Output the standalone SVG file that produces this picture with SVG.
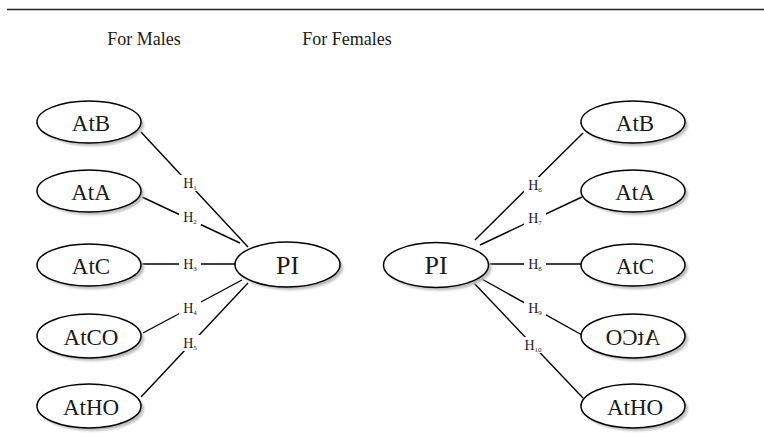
<svg xmlns="http://www.w3.org/2000/svg" width="764" height="433" viewBox="0 0 764 433">
<defs>
<style>
.n{fill:#fff;stroke:#000;stroke-width:1.5}
.s{fill:#bdbdbd;stroke:none;filter:url(#blur)}
.t{font-family:"Liberation Serif",serif;font-size:23px;fill:#1a1a1a;text-anchor:middle}
.p{font-size:26px}
.h{font-family:"Liberation Serif",serif;font-size:14px;fill:#1a1a1a;text-anchor:middle}
.sub{font-size:7px}
.e{stroke:#000;stroke-width:1.4;fill:none}
.ttl{font-family:"Liberation Serif",serif;font-size:18px;fill:#1a1a1a;text-anchor:middle}
</style>
<filter id="blur" x="-20%" y="-20%" width="140%" height="140%"><feGaussianBlur stdDeviation="1.2"/></filter>
</defs>
<rect width="764" height="433" fill="#fff"/>
<line x1="7" y1="9.5" x2="764" y2="9.5" stroke="#222" stroke-width="1.5"/>
<text class="ttl" x="144" y="45">For Males</text>
<text class="ttl" x="347" y="45">For Females</text>
<g id="connectors">
<line class="e" x1="141" y1="132" x2="248" y2="247"/>
<line class="e" x1="142" y1="197" x2="240" y2="243"/>
<line class="e" x1="142" y1="264" x2="236" y2="264"/>
<line class="e" x1="143" y1="333" x2="242" y2="280"/>
<line class="e" x1="141" y1="397" x2="248" y2="283"/>
<line class="e" x1="583" y1="133" x2="475" y2="240"/>
<line class="e" x1="582" y1="197" x2="480" y2="245"/>
<line class="e" x1="488" y1="264" x2="582" y2="264"/>
<line class="e" x1="480" y1="278" x2="582" y2="335"/>
<line class="e" x1="473" y1="282" x2="583" y2="398"/>
<g id="labels">
<rect x="179" y="175" width="22" height="16" fill="#fff"/>
<text class="h" x="190" y="188">H<tspan class="sub" dy="2">1</tspan></text>
<rect x="179" y="209" width="22" height="16" fill="#fff"/>
<text class="h" x="190" y="222">H<tspan class="sub" dy="2">2</tspan></text>
<rect x="179" y="256" width="22" height="16" fill="#fff"/>
<text class="h" x="190" y="269">H<tspan class="sub" dy="2">3</tspan></text>
<rect x="179" y="300" width="22" height="16" fill="#fff"/>
<text class="h" x="190" y="313">H<tspan class="sub" dy="2">4</tspan></text>
<rect x="179" y="335" width="22" height="16" fill="#fff"/>
<text class="h" x="190" y="348">H<tspan class="sub" dy="2">5</tspan></text>
<rect x="524" y="177" width="22" height="16" fill="#fff"/>
<text class="h" x="535" y="190">H<tspan class="sub" dy="2">6</tspan></text>
<rect x="524" y="210" width="22" height="16" fill="#fff"/>
<text class="h" x="535" y="223">H<tspan class="sub" dy="2">7</tspan></text>
<rect x="524" y="256" width="22" height="16" fill="#fff"/>
<text class="h" x="535" y="269">H<tspan class="sub" dy="2">8</tspan></text>
<rect x="524" y="300" width="22" height="16" fill="#fff"/>
<text class="h" x="535" y="313">H<tspan class="sub" dy="2">9</tspan></text>
<rect x="520" y="337" width="26" height="16" fill="#fff"/>
<text class="h" x="533" y="350">H<tspan class="sub" dy="2">10</tspan></text>
</g>
</g>
<g id="m_atb"><ellipse class="s" cx="92" cy="125" rx="52" ry="21"/><ellipse class="n" cx="89" cy="122" rx="52" ry="21"/><text class="t" x="91" y="131">AtB</text></g>
<g id="m_ata"><ellipse class="s" cx="92" cy="194" rx="52" ry="21"/><ellipse class="n" cx="89" cy="191" rx="52" ry="21"/><text class="t" x="91" y="200">AtA</text></g>
<g id="m_atc"><ellipse class="s" cx="92" cy="268" rx="52" ry="21"/><ellipse class="n" cx="89" cy="265" rx="52" ry="21"/><text class="t" x="91" y="274">AtC</text></g>
<g id="m_atco"><ellipse class="s" cx="92" cy="339" rx="52" ry="22"/><ellipse class="n" cx="89" cy="336" rx="52" ry="22"/><text class="t" x="91" y="345">AtCO</text></g>
<g id="m_atho"><ellipse class="s" cx="92" cy="409" rx="52" ry="22"/><ellipse class="n" cx="89" cy="406" rx="52" ry="22"/><text class="t" x="91" y="415">AtHO</text></g>
<g id="m_pi"><ellipse class="s" cx="290.5" cy="267.5" rx="52.5" ry="22.5"/><ellipse class="n" cx="287.5" cy="264.5" rx="52.5" ry="22.5"/><text class="t p" x="287.5" y="274">PI</text></g>
<g id="f_pi"><ellipse class="s" cx="439" cy="268" rx="52.5" ry="22.5"/><ellipse class="n" cx="436" cy="265" rx="52.5" ry="22.5"/><text class="t p" x="436" y="274">PI</text></g>
<g id="f_atb"><ellipse class="s" cx="636" cy="125" rx="52" ry="21"/><ellipse class="n" cx="633" cy="122" rx="52" ry="21"/><text class="t" x="635" y="131">AtB</text></g>
<g id="f_ata"><ellipse class="s" cx="636" cy="194" rx="52" ry="21"/><ellipse class="n" cx="633" cy="191" rx="52" ry="21"/><text class="t" x="635" y="200">AtA</text></g>
<g id="f_atc"><ellipse class="s" cx="636" cy="268" rx="52" ry="21"/><ellipse class="n" cx="633" cy="265" rx="52" ry="21"/><text class="t" x="635" y="274">AtC</text></g>
<g id="f_atco"><ellipse class="s" cx="636" cy="339" rx="52" ry="22"/><ellipse class="n" cx="633" cy="336" rx="52" ry="22"/><text class="t" x="-633" y="345" transform="scale(-1,1)">AtCO</text></g>
<g id="f_atho"><ellipse class="s" cx="636" cy="409" rx="52" ry="22"/><ellipse class="n" cx="633" cy="406" rx="52" ry="22"/><text class="t" x="635" y="415">AtHO</text></g>
</svg>
